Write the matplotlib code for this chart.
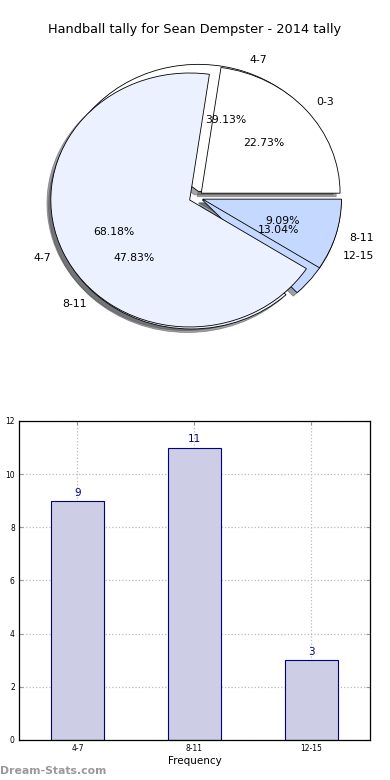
import matplotlib
matplotlib.use("Agg")
import matplotlib.pyplot as plt

title = "Handball tally for Sean Dempster - 2014 tally"
# Pie A (drawn first / underneath)
pieA_labels = ["4-7", "8-11", "12-15"]
pieA_values = [9, 11, 3]
# Pie B (drawn on top)
pieB_labels = ["0-3", "4-7", "8-11"]
pieB_values = [5, 15, 2]

bar_labels = ["4-7", "8-11", "12-15"]
bar_values = [9, 11, 3]
y_ticks = [0, 2, 4, 6, 8, 10, 12]

colors = ["#ffffff", "#ebf1fe", "#c5d8ff"]

fig = plt.figure(figsize=(3.9, 7.8), dpi=100)

ax1 = fig.add_axes([0.0575, 0.5435, 0.89, 0.407])
wa, ta, pa = ax1.pie(pieA_values, labels=pieA_labels, colors=colors, explode=[0.05, 0.05, 0.05],
                     autopct="%1.2f%%", shadow=True, startangle=0,
                     wedgeprops=dict(edgecolor="black", linewidth=0.6),
                     textprops=dict(fontsize=7.8))
wb, tb, pb = ax1.pie(pieB_values, labels=pieB_labels, colors=colors, explode=[0.05, 0.05, 0.05],
                     autopct="%1.2f%%", shadow=True, startangle=0,
                     wedgeprops=dict(edgecolor="black", linewidth=0.6),
                     textprops=dict(fontsize=7.8))
ax1.set_aspect("auto")
ax1.set_xlim(-1.25, 1.25)
ax1.set_ylim(-1.25, 1.25)
fig.text(0.5, 0.962, title, ha="center", va="center", fontsize=9.3)

ax2 = fig.add_axes([0.0487, 0.0513, 0.9, 0.409])
x = list(range(len(bar_values)))
bars = ax2.bar(x, bar_values, width=0.45, color="#cdcde6", edgecolor="#000080", linewidth=0.8, zorder=2)
for xi, v in zip(x, bar_values):
    ax2.text(xi, v + 0.12, str(v), ha="center", va="bottom", color="#000080", fontsize=7.5)
ax2.set_xlim(-0.5, 2.5)
ax2.set_ylim(0, 12)
ax2.set_xticks(x)
ax2.set_xticklabels(bar_labels, fontsize=5.5)
ax2.set_yticks(y_ticks)
ax2.set_yticklabels([str(t) for t in y_ticks], fontsize=5.5)
ax2.tick_params(direction="in", length=3, color="#999999", top=True, right=True, pad=3)
ax2.grid(True, linestyle=":", color="#bbbbbb", linewidth=0.9, zorder=0)
ax2.set_axisbelow(True)
ax2.set_xlabel("Frequency", fontsize=7.5, labelpad=2)
ax2.set_ylabel("Distribution", fontsize=7.5, labelpad=6)
for s in ax2.spines.values():
    s.set_linewidth(0.9)

fig.text(0.0, 0.012, "Dream-Stats.com", color="#999999", fontsize=7.8, fontweight="bold", ha="left", va="center")

fig.savefig("out.png", dpi=100)
